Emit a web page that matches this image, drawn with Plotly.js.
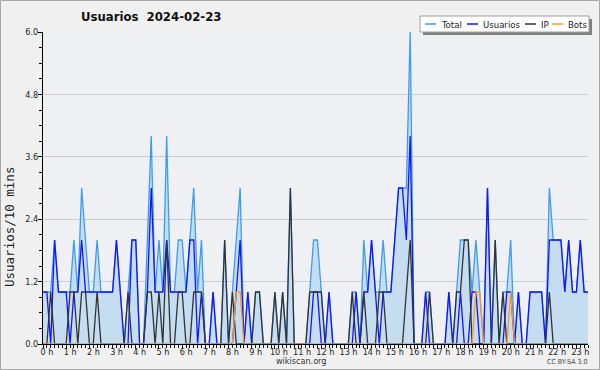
<!DOCTYPE html>
<html><head><meta charset="utf-8">
<script src="https://cdn.plot.ly/plotly-3.0.1.min.js"></script>
<style>html,body{margin:0;padding:0;background:#f0f0f0}</style>
</head><body><div id="chart" style="width:600px;height:370px"></div>
<script>
// ---- data (10-minute slots, 00:00 .. 23:30) ----
const seriesNames = ['Total', 'Usuarios', 'IP', 'Bots'];
const usuarios = [
 1,1,0,2,1,1,1,0,1,1,
 2,1,1,1,1,1,1,1,1,2,
 1,0,0,2,2,0,0,1,3,1,
 1,1,2,1,1,1,1,1,2,2,
 0,1,0,0,1,0,0,0,0,0,
 1,2,0,1,0,0,0,0,0,0,
 0,0,0,0,0,0,0,0,0,0,
 1,1,0,0,1,0,0,0,0,0,
 0,1,0,1,1,2,1,0,1,1,
 1,2,3,3,2,4,0,0,0,1,
 0,0,0,0,0,1,0,0,1,0,
 0,1,1,0,0,3,0,0,0,0,
 1,1,0,1,0,0,1,1,1,1,
 0,2,2,2,2,1,2,1,1,2,
 1,1];
const ip = [
 0,0,1,0,0,0,0,1,1,0,
 1,1,0,0,1,0,0,0,0,0,
 0,0,1,0,0,0,0,1,1,0,
 1,0,2,0,0,1,1,0,0,1,
 1,1,0,0,0,0,0,2,0,1,
 0,0,0,0,0,1,1,0,0,0,
 1,0,1,0,3,0,0,0,0,1,
 1,1,1,0,0,0,0,0,0,0,
 1,0,0,1,0,0,0,1,1,0,
 0,0,0,0,1,2,0,0,0,0,
 1,0,0,0,0,0,0,1,1,2,
 2,0,0,0,0,0,0,2,0,1,
 0,0,0,0,0,0,0,0,0,0,
 0,1,0,0,0,0,0,0,0,0,
 0,0];
const bots = [
 0,0,0,0,0,0,0,0,0,0,
 0,0,0,0,0,0,0,0,0,0,
 0,0,0,0,0,0,0,0,0,0,
 0,0,0,0,0,0,0,0,0,0,
 0,0,0,0,0,0,0,0,0,0,
 1,1,0,0,0,0,0,0,0,0,
 0,0,0,0,0,0,0,0,0,0,
 0,0,0,0,0,0,0,0,0,0,
 0,0,0,0,0,0,0,0,0,0,
 0,0,0,0,0,0,0,0,0,0,
 0,0,0,0,0,0,0,0,0,0,
 0,0,1,1,0,0,0,0,0,0,
 0,1,0,0,0,0,0,0,0,0,
 0,0,0,0,0,0,0,0,0,0,
 0,0];
const total = [
 1,1,1,2,1,1,1,1,2,1,
 3,2,1,1,2,1,1,1,1,2,
 1,0,1,2,2,0,0,2,4,1,
 2,1,4,1,1,2,2,1,2,3,
 1,2,0,0,1,0,0,2,0,1,
 2,3,0,1,0,1,1,0,0,0,
 1,0,1,0,3,0,0,0,0,1,
 2,2,1,0,1,0,0,0,0,0,
 1,1,0,2,1,2,1,1,2,1,
 1,2,3,3,3,6,0,0,0,1,
 1,0,0,0,0,1,0,1,2,2,
 2,1,2,1,0,3,0,2,0,1,
 1,2,0,1,0,0,1,1,1,1,
 0,3,2,2,2,1,2,1,1,2,
 1,1];
const hourTicks = [0,1,2,3,4,5,6,7,8,9,10,11,12,13,14,15,16,17,18,19,20,21,22,23];
const hourLabels = ['0 h','1 h','2 h','3 h','4 h','5 h','6 h','7 h','8 h','9 h','10 h','11 h',
  '12 h','13 h','14 h','15 h','16 h','17 h','18 h','19 h','20 h','21 h','22 h','23 h'];
const yTicks = [0, 1.2, 2.4, 3.6, 4.8, 6.0];
const yLabels = ['0.0','1.2','2.4','3.6','4.8','6.0'];
const chartTitle = 'Usuarios  2024-02-23';
const yTitle = 'Usuarios/10 mins';
const footer = 'wikiscan.org';
const license = 'CC BY-SA 3.0';

// ---- styling ----
const colors = {Total:'#3d9cf0', Usuarios:'#1414ff', IP:'#333333', Bots:'#ff9a1e'};
const fillColor = '#c5ddf1';
const FONT = '"DejaVu Sans Condensed", "DejaVu Sans", sans-serif';
const W = 600, H = 370;
const M = {l:43, r:12, t:32, b:26};
const PW = W - M.l - M.r, PH = H - M.t - M.b;
const px = v => (v - M.l) / PW;          // pixel x -> paper x
const py = v => 1 - (v - M.t) / PH;      // pixel y -> paper y

const slotsPerHour = 6;
const times = usuarios.map((_, i) => i / slotsPerHour);
const valuesByName = {Total: total, Usuarios: usuarios, IP: ip, Bots: bots};

const traces = seriesNames.map(name => {
  const t = {
    type: 'scatter', mode: 'lines', name: name,
    x: times, y: valuesByName[name],
    line: {color: colors[name], width: 1.3},
    hoverinfo: 'skip'
  };
  if (name === 'Total') { t.fill = 'tozeroy'; t.fillcolor = fillColor; }
  return t;
});

// manual legend (short line samples like the original)
const legendStarts = [425, 467, 525, 552];
const legendY = 24;
const shapes = [
  // outer frame
  {type:'rect', xref:'paper', yref:'paper', x0:px(0.5), x1:px(599.5), y0:py(0.5), y1:py(369.5),
   line:{color:'#a8a8a8', width:1}, fillcolor:'rgba(0,0,0,0)', layer:'below'},
  // legend shadow + box
  {type:'rect', xref:'paper', yref:'paper', x0:px(423), x1:px(592), y0:py(19), y1:py(35),
   line:{width:0}, fillcolor:'#808080'},
  {type:'rect', xref:'paper', yref:'paper', x0:px(420), x1:px(589), y0:py(16), y1:py(32),
   line:{color:'#a0a0a0', width:1}, fillcolor:'#ffffff'}
];
const annotations = [
  {text: '<b>' + chartTitle + '</b>', xref:'paper', yref:'paper', x:px(151), y:py(17),
   xanchor:'center', yanchor:'middle', showarrow:false,
   font:{family:FONT, size:13, color:'#111'}},
  {text: yTitle, xref:'paper', yref:'paper', x:px(9), y:py(227), textangle:-90,
   xanchor:'center', yanchor:'middle', showarrow:false,
   font:{family:'"DejaVu Sans Mono", monospace', size:12.5, color:'#222'}},
  {text: footer, xref:'paper', yref:'paper', x:px(301), y:py(361),
   xanchor:'center', yanchor:'middle', showarrow:false,
   font:{family:FONT, size:9, color:'#333'}},
  {text: license, xref:'paper', yref:'paper', x:px(589), y:py(362),
   xanchor:'right', yanchor:'middle', showarrow:false,
   font:{family:FONT, size:7, color:'#444'}}
];
seriesNames.forEach((name, k) => {
  const x0 = legendStarts[k];
  shapes.push({type:'line', xref:'paper', yref:'paper', x0:px(x0), x1:px(x0 + 11),
    y0:py(legendY), y1:py(legendY), line:{color:colors[name], width:1.5}});
  annotations.push({text:name, xref:'paper', yref:'paper', x:px(x0 + 14), y:py(legendY),
    xanchor:'left', yanchor:'middle', showarrow:false,
    font:{family:FONT, size:9.5, color:'#222'}});
});

const layout = {
  width: W, height: H,
  margin: M,
  paper_bgcolor: '#f0f0f0',
  plot_bgcolor: '#eef0f3',
  showlegend: false,
  xaxis: {
    range: [0, times[times.length - 1]],
    tickmode: 'array', tickvals: hourTicks, ticktext: hourLabels,
    ticks: 'outside', ticklen: 4, tickcolor: '#000', tickwidth: 1,
    ticklabelshift: 4, ticklabelstandoff: -5,
    minor: {tickmode: 'linear', tick0: 0, dtick: 1 / slotsPerHour, ticks: 'outside',
            ticklen: 3, tickcolor: '#000', showgrid: false},
    showline: true, linecolor: '#000', linewidth: 1,
    showgrid: false, zeroline: false,
    tickfont: {family: FONT, size: 9, color: '#222'}
  },
  yaxis: {
    range: [0, 6],
    tickmode: 'array', tickvals: yTicks, ticktext: yLabels,
    ticks: 'outside', ticklen: 4, tickcolor: '#000', tickwidth: 1,
    ticklabelstandoff: -2,
    minor: {tickmode: 'linear', tick0: 0, dtick: 0.3, ticks: 'outside',
            ticklen: 3, tickcolor: '#000', showgrid: false},
    showline: true, linecolor: '#000', linewidth: 1,
    showgrid: true, gridcolor: '#cdcdcd', gridwidth: 1, zeroline: false,
    tickfont: {family: FONT, size: 9, color: '#222'}
  },
  shapes: shapes,
  annotations: annotations
};

Plotly.newPlot('chart', traces, layout, {staticPlot: true, displayModeBar: false});
</script>
</body></html>
